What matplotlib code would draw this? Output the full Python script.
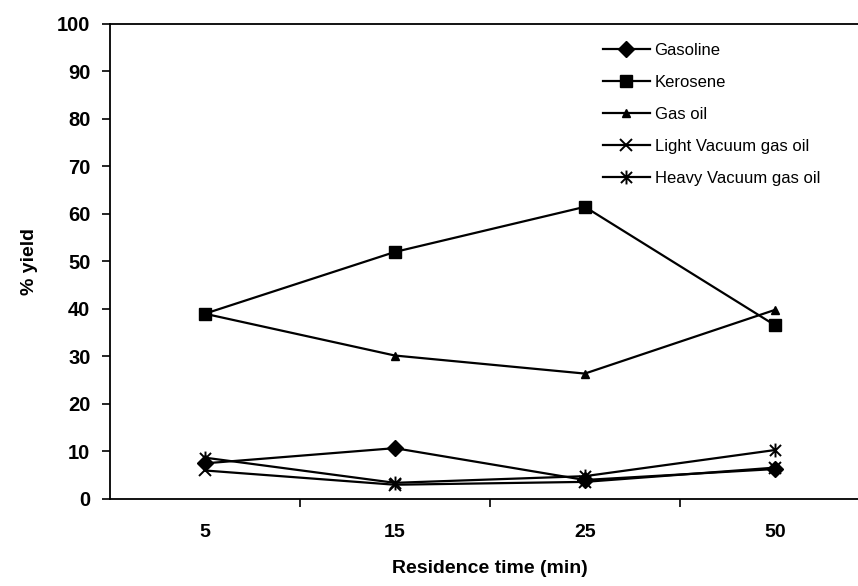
import matplotlib.pyplot as plt
from matplotlib.path import Path

plt.rcParams['font.family'] = ['Liberation Sans', 'DejaVu Sans']

# Residence time categories and yields (%) of each fraction
times = ['5', '15', '25', '50']
gasoline = [7.5, 10.7, 4.0, 6.3]
kerosene = [39.0, 52.0, 61.5, 36.6]
gas_oil = [39.0, 30.2, 26.4, 39.8]
light_vgo = [6.0, 3.0, 3.6, 6.6]
heavy_vgo = [8.7, 3.4, 4.8, 10.3]

# star marker: an "x" with a vertical stroke through it
star = Path(
    [(-1, -1), (1, 1), (-1, 1), (1, -1), (0, -1.25), (0, 1.25)],
    [Path.MOVETO, Path.LINETO, Path.MOVETO, Path.LINETO, Path.MOVETO, Path.LINETO],
)

series = [
    ('Gasoline', gasoline, dict(marker='D', ms=8)),
    ('Kerosene', kerosene, dict(marker='s', ms=9)),
    ('Gas oil', gas_oil, dict(marker='^', ms=6)),
    ('Light Vacuum gas oil', light_vgo, dict(marker='x', ms=9, mew=1.4)),
    ('Heavy Vacuum gas oil', heavy_vgo, dict(marker=star, ms=10, mew=1.4,
                                             mfc='none')),
]

fig = plt.figure(figsize=(8.58, 5.86), dpi=100)
ax = fig.add_axes([0.128, 0.1485, 0.8858, 0.8106])

x = range(len(times))
for name, vals, style in series:
    ax.plot(x, vals, color='black', lw=1.6, mec='black', label=name, **style)

ax.set_xlim(-0.5, 3.5)
ax.set_ylim(0, 100)
ax.set_yticks(range(0, 101, 10))
ax.set_xticks(list(x))
ax.set_xticklabels(times)
ax.set_xticks([0.5, 1.5, 2.5], minor=True)
ax.tick_params(axis='x', which='major', length=0, pad=18, labelsize=14)
ax.tick_params(axis='x', which='minor', length=6, width=1.2, direction='out')
ax.tick_params(axis='y', length=6, width=1.2, direction='out', pad=8,
               labelsize=14.5)
for lab in ax.get_xticklabels() + ax.get_yticklabels():
    lab.set_fontweight('bold')
for sp in ax.spines.values():
    sp.set_linewidth(1.3)

ax.set_ylabel('% yield', fontsize=14, fontweight='bold', labelpad=14)
ax.set_xlabel('Residence time (min)', fontsize=14, fontweight='bold',
              labelpad=14)

ax.legend(loc='upper left', bbox_to_anchor=(0.629, 0.992), frameon=False,
          fontsize=12, handlelength=2.8, labelspacing=1.02,
          handletextpad=0.3)

fig.savefig('out.png', dpi=100)
